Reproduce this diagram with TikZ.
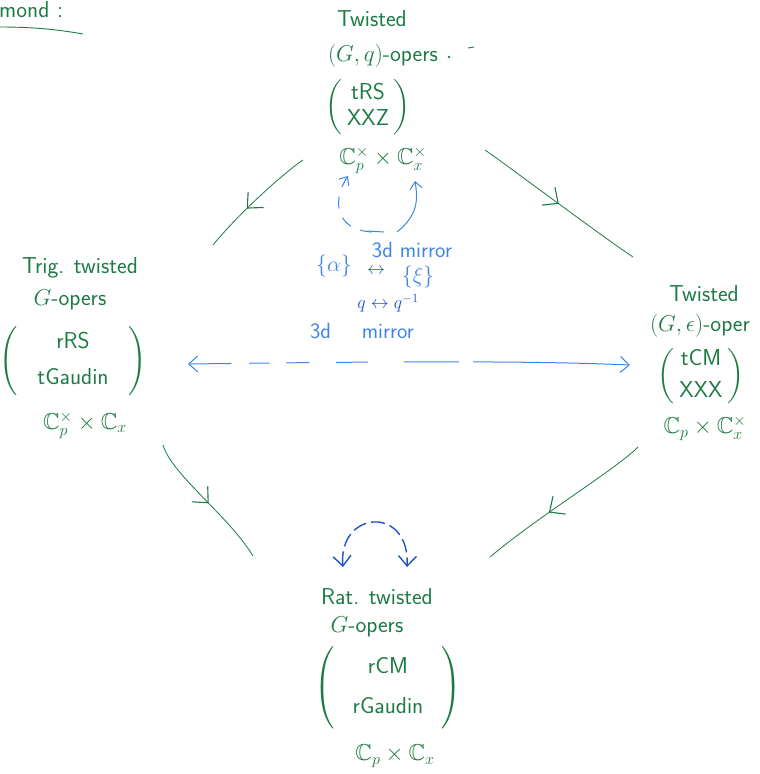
\RequirePackage{fix-cm}
\documentclass[tikz,border=0pt]{standalone}
\usepackage{amsmath,amssymb}
\usetikzlibrary{arrows.meta,decorations.markings}
\definecolor{dgreen}{RGB}{28,122,68}
\definecolor{lblue}{RGB}{62,132,232}
\definecolor{dblue}{RGB}{32,82,200}
\newcommand{\parh}[1]{\vcenter{\vbox to #1{}}}
\tikzset{
  gtxt/.style={text=dgreen, font=\sffamily\fontsize{23}{28}\selectfont, inner sep=0pt},
  btxt/.style={text=lblue, font=\sffamily\fontsize{22}{26}\selectfont, inner sep=0pt},
  dbtxt/.style={text=dblue, font=\sffamily\fontsize{18}{22}\selectfont, inner sep=0pt},
  garrow/.style={draw=dgreen, line width=0.8pt, postaction={decorate},
    decoration={markings, mark=at position #1 with {\arrow[dgreen, line width=1.1pt]{Straight Barb[length=12pt,width=22pt]}}}},
  bline/.style={draw=lblue, line width=1pt}
}
\begin{document}
\begin{tikzpicture}[x=1pt,y=-1pt]
\useasboundingbox (0,0) rectangle (760,774);

% title fragment
\node[gtxt, anchor=west] (title) at (-1,10) {mond\,\,:};
\draw[dgreen, line width=0.9pt] (0,27) .. controls (30,27) and (55,29) .. (83,34);

% top node
\node[gtxt] (t1) at (372,19) {Twisted};
\node[gtxt] (t2) at (383,56) {$(G,q)$-opers};
\fill[dgreen] (449,57) circle (1.3pt);
\draw[dgreen, line width=0.9pt] (468,48) -- (474,47);
\node[gtxt] (t3) at (368,107) {$\left(\begin{array}{c}\textsf{tRS}\\[-2pt]\textsf{XXZ}\end{array}\right)$};
\node[gtxt] (t4) at (383,160) {$\mathbb{C}_p^\times\times\mathbb{C}_x^\times$};

% left node
\node[gtxt] (l1) at (80,268) {Trig. twisted};
\node[gtxt] (l2) at (70,300) {$G$-opers};
\node[gtxt] (l3) at (73,361) {$\left(\begin{array}{@{\hspace{20pt}}c@{\hspace{20pt}}}\textsf{rRS}\\[8pt]\textsf{tGaudin}\end{array}\right)$};
\node[gtxt] (l4) at (85,425) {$\mathbb{C}_p^\times\times\mathbb{C}_x$};

% right node
\node[gtxt] (r1) at (704,294) {Twisted};
\node[gtxt] (r2) at (700,326) {$(G,\epsilon)$-oper};
\node[gtxt] (r3) at (701,376) {$\left(\begin{array}{c}\textsf{tCM}\\[4pt]\textsf{XXX}\end{array}\right)$};
\node[gtxt] (r4) at (705,428) {$\mathbb{C}_p\times\mathbb{C}_x^\times$};

% bottom node
\node[gtxt] (b1) at (377,597) {Rat. twisted};
\node[gtxt] (b2) at (367,627) {$G$-opers};
\node[gtxt] (b3) at (388,688) {$\left(\parh{86pt}\begin{array}{@{\hspace{18pt}}c@{\hspace{18pt}}}\textsf{rCM}\\[12pt]\textsf{rGaudin}\end{array}\right)$};
\node[gtxt] (b4) at (395,756) {$\mathbb{C}_p\times\mathbb{C}_x$};

% green arrows
\coordinate (a1s) at (303,160); \coordinate (a1e) at (213,245);
\coordinate (a2s) at (485,150); \coordinate (a2e) at (633,257);
\coordinate (a3s) at (163,445); \coordinate (a3e) at (253,556);
\coordinate (a4s) at (638,447); \coordinate (a4e) at (490,557);
\path[garrow=0.6] (a1s) .. controls (285,172) and (240,212) .. (a1e);
\path[garrow=0.5] (a2s) .. controls (500,160) and (600,235) .. (a2e);
\path[garrow=0.52] (a3s) .. controls (172,475) and (228,515) .. (a3e);
\path[garrow=0.6] (a4s) .. controls (615,470) and (540,515) .. (a4e);

% blue: top loop
\coordinate (lp0) at (372,232);
\coordinate (lpL) at (348,176);
\coordinate (lpR) at (415,181);
\coordinate (lp1) at (397,232);
\draw[bline, dash pattern=on 12pt off 10pt, -{Straight Barb[length=7pt,width=12pt]}] (lp0) .. controls (335,230) and (332,200) .. (lpL);
\draw[bline, -{Straight Barb[length=7pt,width=12pt]}] (lp1) .. controls (418,215) and (418,200) .. (lpR);
\draw[bline] (367,231) -- (384,232);

% blue labels
\node[btxt] (m1) at (412,250) {3d mirror};
\node[btxt] (al) at (334,266) {$\{\alpha\}$};
\node[dbtxt] (lr) at (376,271) {$\leftrightarrow$};
\node[btxt] (xi) at (418,277) {$\{\xi\}$};
\node[dbtxt] (qq) at (388,303) {$q\leftrightarrow q^{-1}$};
\node[btxt] (m2) at (362,331) {3d\hspace{1.4em}mirror};

% dashed horizontal double arrow
\coordinate (hL) at (188,364);
\coordinate (hR) at (630,365);
\draw[bline, dash pattern=on 42pt off 18pt on 20pt off 17pt on 23pt off 27pt on 32pt off 36pt on 55pt off 14pt on 200pt, {Straight Barb[length=9pt,width=16pt]}-{Straight Barb[length=9pt,width=16pt]}] (hL) .. controls (350,362) and (520,360) .. (hR);

% bottom arc
\coordinate (bL) at (343,567);
\coordinate (bR) at (407,567);
\draw[draw=dblue, line width=1.4pt, dash pattern=on 14pt off 5pt, {Straight Barb[length=10pt,width=18pt]}-{Straight Barb[length=10pt,width=18pt]}] (bL) .. controls (338,510) and (410,505) .. (bR);
\end{tikzpicture}
\end{document}
